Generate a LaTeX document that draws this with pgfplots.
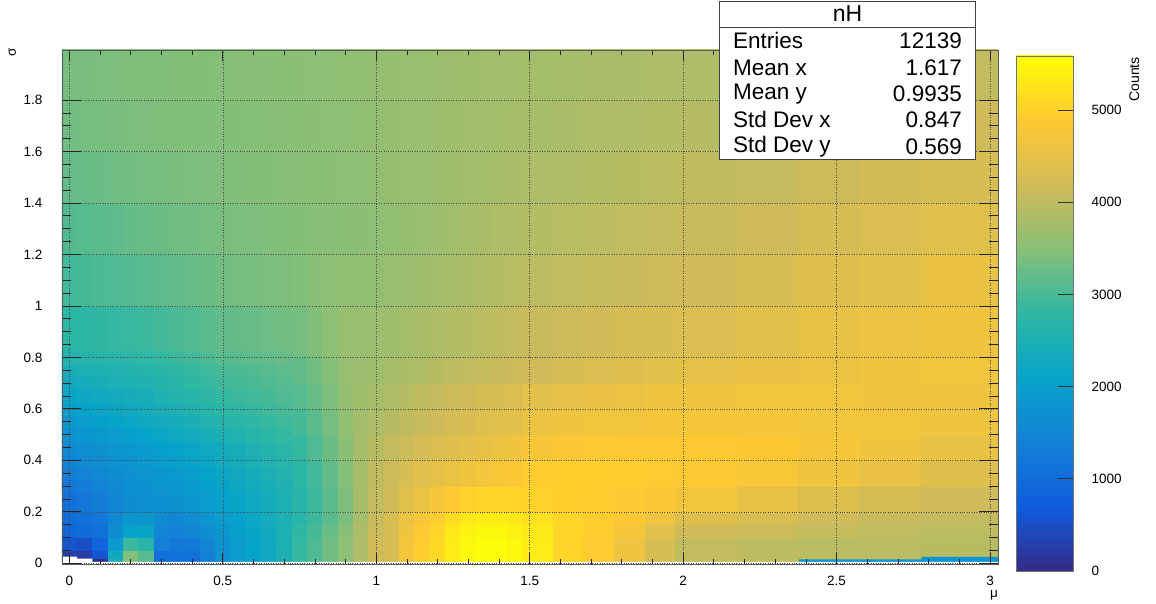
\documentclass[border=0pt]{standalone}
\usepackage{fontspec}
\setmainfont{Liberation Sans}
\usepackage{pgfplots}
\pgfplotsset{compat=1.18}
\pgfplotsset{
 colormap={bird}{
  rgb=(0.2082,0.1664,0.5293) rgb=(0.0592,0.3599,0.8684) rgb=(0.0780,0.5041,0.8385)
  rgb=(0.0232,0.6419,0.7914) rgb=(0.1802,0.7178,0.6425) rgb=(0.5301,0.7492,0.4662)
  rgb=(0.8186,0.7328,0.3499) rgb=(0.9956,0.7862,0.1968) rgb=(0.9900,0.9950,0.0300)}
}
\pgfdeclareverticalshading{birdbar}{100bp}{
  rgb(0bp)=(0.2082,0.1664,0.5293); rgb(25bp)=(0.2082,0.1664,0.5293);
  rgb(31.25bp)=(0.0592,0.3599,0.8684); rgb(37.5bp)=(0.0780,0.5041,0.8385);
  rgb(43.75bp)=(0.0232,0.6419,0.7914); rgb(50bp)=(0.1802,0.7178,0.6425);
  rgb(56.25bp)=(0.5301,0.7492,0.4662); rgb(62.5bp)=(0.8186,0.7328,0.3499);
  rgb(68.75bp)=(0.9956,0.7862,0.1968); rgb(75bp)=(0.9900,0.9950,0.0300);
  rgb(100bp)=(0.9900,0.9950,0.0300)}
\newcommand{\smallfont}{\fontsize{13.5}{15}\selectfont}
\begin{document}
\begin{tikzpicture}[x=1pt,y=1pt]
\path[use as bounding box] (-62,-39) rectangle (1094,564);
\begin{axis}[
  at={(0,0)},anchor=south west,
  scale only axis,width=936pt,height=514pt,
  xmin=-0.024,xmax=3.026,ymin=-0.003,ymax=1.9945,
  colormap name=bird,point meta min=0,point meta max=5585,
  xtick={0,0.5,1,1.5,2,2.5,3},ytick={0,0.2,...,1.81},
  xticklabels={0,0.5,1,1.5,2,2.5,3},
  yticklabels={0,0.2,0.4,0.6,0.8,1,1.2,1.4,1.6,1.8},
  minor x tick num=4,minor y tick num=3,
  tick align=inside,
  major tick length=19pt,minor tick length=9pt,
  xtick style={/pgfplots/major tick length=11pt,/pgfplots/minor tick length=5pt},
  tick style={black!85,line width=0.7pt},
  axis line style={black!65,line width=0.8pt},
  grid=major,grid style={black!70,dotted,line width=0.5pt},
  axis on top,
  tick label style={font=\smallfont},
  xticklabel style={yshift=-9pt},
  yticklabel style={xshift=-16pt},
]
\addplot[surf,shader=flat corner,mesh/cols=41,mesh/check=false,point meta=\thisrow{c}] table {
x y c
-0.025 0.005 300
0.025 0.005 250
0.075 0.005 150
0.125 0.005 2500
0.175 0.005 3450
0.225 0.005 3150
0.275 0.005 1000
0.325 0.005 1050
0.375 0.005 1050
0.425 0.005 1350
0.475 0.005 1750
0.525 0.005 1950
0.575 0.005 2100
0.625 0.005 2250
0.675 0.005 2500
0.725 0.005 2850
0.775 0.005 3050
0.825 0.005 3300
0.875 0.005 3550
0.925 0.005 3850
0.975 0.005 4200
1.025 0.005 4300
1.075 0.005 4700
1.125 0.005 4950
1.175 0.005 5100
1.225 0.005 5350
1.275 0.005 5500
1.325 0.005 5560
1.375 0.005 5580
1.425 0.005 5500
1.475 0.005 5350
1.575 0.005 5050
1.675 0.005 4920
1.775 0.005 4650
1.875 0.005 4300
1.975 0.005 4050
2.175 0.005 4000
2.375 0.005 3980
2.575 0.005 3970
2.775 0.005 3950
3.025 0.005 3950
-0.025 0.02 300
0.025 0.02 250
0.075 0.02 600
0.125 0.02 2300
0.175 0.02 3450
0.225 0.02 3100
0.275 0.02 1050
0.325 0.02 1100
0.375 0.02 1100
0.425 0.02 1400
0.475 0.02 1750
0.525 0.02 1950
0.575 0.02 2100
0.625 0.02 2250
0.675 0.02 2500
0.725 0.02 2850
0.775 0.02 3050
0.825 0.02 3300
0.875 0.02 3550
0.925 0.02 3850
0.975 0.02 4200
1.025 0.02 4300
1.075 0.02 4700
1.125 0.02 4950
1.175 0.02 5100
1.225 0.02 5350
1.275 0.02 5500
1.325 0.02 5560
1.375 0.02 5580
1.425 0.02 5500
1.475 0.02 5350
1.575 0.02 5050
1.675 0.02 4920
1.775 0.02 4650
1.875 0.02 4300
1.975 0.02 4050
2.175 0.02 4000
2.375 0.02 3980
2.575 0.02 3970
2.775 0.02 3950
3.025 0.02 3950
-0.025 0.05 600
0.025 0.05 500
0.075 0.05 850
0.125 0.05 1900
0.175 0.05 2900
0.225 0.05 2700
0.275 0.05 1400
0.325 0.05 1250
0.375 0.05 1300
0.425 0.05 1500
0.475 0.05 1750
0.525 0.05 1950
0.575 0.05 2100
0.625 0.05 2250
0.675 0.05 2500
0.725 0.05 2850
0.775 0.05 3050
0.825 0.05 3300
0.875 0.05 3550
0.925 0.05 3850
0.975 0.05 4200
1.025 0.05 4300
1.075 0.05 4700
1.125 0.05 4950
1.175 0.05 5100
1.225 0.05 5350
1.275 0.05 5500
1.325 0.05 5560
1.375 0.05 5580
1.425 0.05 5500
1.475 0.05 5350
1.575 0.05 5050
1.675 0.05 4920
1.775 0.05 4650
1.875 0.05 4300
1.975 0.05 4050
2.175 0.05 4000
2.375 0.05 3980
2.575 0.05 3970
2.775 0.05 3950
3.025 0.05 3950
-0.025 0.1 900
0.025 0.1 1000
0.075 0.1 1100
0.125 0.1 1650
0.175 0.1 2100
0.225 0.1 2150
0.275 0.1 1500
0.325 0.1 1400
0.375 0.1 1450
0.425 0.1 1650
0.475 0.1 1850
0.525 0.1 2000
0.575 0.1 2150
0.625 0.1 2300
0.675 0.1 2500
0.725 0.1 2800
0.775 0.1 3000
0.825 0.1 3250
0.875 0.1 3500
0.925 0.1 3850
0.975 0.1 4150
1.025 0.1 4300
1.075 0.1 4650
1.125 0.1 4900
1.175 0.1 5050
1.225 0.1 5300
1.275 0.1 5450
1.325 0.1 5500
1.375 0.1 5500
1.425 0.1 5420
1.475 0.1 5300
1.575 0.1 5050
1.675 0.1 4950
1.775 0.1 4750
1.875 0.1 4450
1.975 0.1 4200
2.175 0.1 4150
2.375 0.1 4080
2.575 0.1 4030
2.775 0.1 4000
3.025 0.1 4000
-0.025 0.15 1000
0.025 0.15 1100
0.075 0.15 1200
0.125 0.15 1550
0.175 0.15 1850
0.225 0.15 1850
0.275 0.15 1600
0.325 0.15 1500
0.375 0.15 1650
0.425 0.15 1800
0.475 0.15 1950
0.525 0.15 2050
0.575 0.15 2200
0.625 0.15 2350
0.675 0.15 2500
0.725 0.15 2700
0.775 0.15 2900
0.825 0.15 3150
0.875 0.15 3400
0.925 0.15 3800
0.975 0.15 4100
1.025 0.15 4300
1.075 0.15 4600
1.125 0.15 4800
1.175 0.15 4950
1.225 0.15 5150
1.275 0.15 5300
1.325 0.15 5350
1.375 0.15 5350
1.425 0.15 5300
1.475 0.15 5200
1.575 0.15 5050
1.675 0.15 4950
1.775 0.15 4850
1.875 0.15 4650
1.975 0.15 4400
2.175 0.15 4300
2.375 0.15 4180
2.575 0.15 4100
2.775 0.15 4050
3.025 0.15 4050
-0.025 0.2 1100
0.025 0.2 1200
0.075 0.2 1350
0.125 0.2 1500
0.175 0.2 1650
0.225 0.2 1700
0.275 0.2 1700
0.325 0.2 1750
0.375 0.2 1850
0.425 0.2 1950
0.475 0.2 2050
0.525 0.2 2150
0.575 0.2 2250
0.625 0.2 2350
0.675 0.2 2500
0.725 0.2 2700
0.775 0.2 2900
0.825 0.2 3150
0.875 0.2 3420
0.925 0.2 3800
0.975 0.2 4050
1.025 0.2 4200
1.075 0.2 4450
1.125 0.2 4600
1.175 0.2 4750
1.225 0.2 4900
1.275 0.2 5000
1.325 0.2 5050
1.375 0.2 5050
1.425 0.2 5050
1.475 0.2 5020
1.575 0.2 4970
1.675 0.2 4950
1.775 0.2 4900
1.875 0.2 4830
1.975 0.2 4700
2.175 0.2 4530
2.375 0.2 4370
2.575 0.2 4260
2.775 0.2 4170
3.025 0.2 4170
-0.025 0.3 1350
0.025 0.3 1450
0.075 0.3 1550
0.125 0.3 1650
0.175 0.3 1700
0.225 0.3 1800
0.275 0.3 1850
0.325 0.3 1900
0.375 0.3 2000
0.425 0.3 2100
0.475 0.3 2200
0.525 0.3 2300
0.575 0.3 2400
0.625 0.3 2500
0.675 0.3 2600
0.725 0.3 2750
0.775 0.3 2950
0.825 0.3 3200
0.875 0.3 3480
0.925 0.3 3800
0.975 0.3 4020
1.025 0.3 4150
1.075 0.3 4300
1.125 0.3 4420
1.175 0.3 4520
1.225 0.3 4600
1.275 0.3 4680
1.325 0.3 4740
1.375 0.3 4800
1.425 0.3 4840
1.475 0.3 4950
1.575 0.3 4970
1.675 0.3 4970
1.775 0.3 4950
1.875 0.3 4930
1.975 0.3 4900
2.175 0.3 4800
2.375 0.3 4680
2.575 0.3 4560
2.775 0.3 4400
3.025 0.3 4400
-0.025 0.4 1600
0.025 0.4 1680
0.075 0.4 1750
0.125 0.4 1800
0.175 0.4 1870
0.225 0.4 1950
0.275 0.4 2020
0.325 0.4 2100
0.375 0.4 2180
0.425 0.4 2270
0.475 0.4 2350
0.525 0.4 2450
0.575 0.4 2550
0.625 0.4 2650
0.675 0.4 2750
0.725 0.4 2850
0.775 0.4 3050
0.825 0.4 3280
0.875 0.4 3520
0.925 0.4 3780
0.975 0.4 3950
1.025 0.4 4050
1.075 0.4 4150
1.125 0.4 4250
1.175 0.4 4330
1.225 0.4 4400
1.275 0.4 4470
1.325 0.4 4530
1.375 0.4 4590
1.425 0.4 4650
1.475 0.4 4780
1.575 0.4 4830
1.675 0.4 4860
1.775 0.4 4880
1.875 0.4 4900
1.975 0.4 4890
2.175 0.4 4850
2.375 0.4 4770
2.575 0.4 4680
2.775 0.4 4550
3.025 0.4 4550
-0.025 0.5 1850
0.025 0.5 1950
0.075 0.5 2030
0.125 0.5 2100
0.175 0.5 2180
0.225 0.5 2250
0.275 0.5 2330
0.325 0.5 2400
0.375 0.5 2480
0.425 0.5 2570
0.475 0.5 2650
0.525 0.5 2720
0.575 0.5 2790
0.625 0.5 2860
0.675 0.5 2930
0.725 0.5 3000
0.775 0.5 3150
0.825 0.5 3350
0.875 0.5 3580
0.925 0.5 3750
0.975 0.5 3850
1.025 0.5 3930
1.075 0.5 4020
1.125 0.5 4100
1.175 0.5 4180
1.225 0.5 4250
1.275 0.5 4320
1.325 0.5 4380
1.375 0.5 4430
1.425 0.5 4480
1.475 0.5 4600
1.575 0.5 4650
1.675 0.5 4690
1.775 0.5 4720
1.875 0.5 4760
1.975 0.5 4780
2.175 0.5 4770
2.375 0.5 4740
2.575 0.5 4700
2.775 0.5 4640
3.025 0.5 4640
-0.025 0.6 2150
0.025 0.6 2220
0.075 0.6 2280
0.125 0.6 2340
0.175 0.6 2400
0.225 0.6 2450
0.275 0.6 2530
0.325 0.6 2610
0.375 0.6 2690
0.425 0.6 2770
0.475 0.6 2850
0.525 0.6 2900
0.575 0.6 2950
0.625 0.6 3000
0.675 0.6 3050
0.725 0.6 3100
0.775 0.6 3250
0.825 0.6 3420
0.875 0.6 3610
0.925 0.6 3720
0.975 0.6 3780
1.025 0.6 3860
1.075 0.6 3940
1.125 0.6 4020
1.175 0.6 4090
1.225 0.6 4150
1.275 0.6 4200
1.325 0.6 4260
1.375 0.6 4310
1.425 0.6 4360
1.475 0.6 4470
1.575 0.6 4520
1.675 0.6 4560
1.775 0.6 4600
1.875 0.6 4640
1.975 0.6 4670
2.175 0.6 4690
2.375 0.6 4690
2.575 0.6 4680
2.775 0.6 4670
3.025 0.6 4670
-0.025 0.7 2450
0.025 0.7 2490
0.075 0.7 2530
0.125 0.7 2570
0.175 0.7 2610
0.225 0.7 2650
0.275 0.7 2720
0.325 0.7 2790
0.375 0.7 2860
0.425 0.7 2930
0.475 0.7 3000
0.525 0.7 3040
0.575 0.7 3080
0.625 0.7 3120
0.675 0.7 3160
0.725 0.7 3200
0.775 0.7 3330
0.825 0.7 3480
0.875 0.7 3640
0.925 0.7 3700
0.975 0.7 3720
1.025 0.7 3780
1.075 0.7 3840
1.125 0.7 3890
1.175 0.7 3950
1.225 0.7 4000
1.275 0.7 4040
1.325 0.7 4080
1.375 0.7 4120
1.425 0.7 4160
1.475 0.7 4200
1.575 0.7 4270
1.675 0.7 4330
1.775 0.7 4390
1.875 0.7 4450
1.975 0.7 4500
2.175 0.7 4560
2.375 0.7 4620
2.575 0.7 4650
2.775 0.7 4690
3.025 0.7 4690
-0.025 0.8 2750
0.025 0.8 2780
0.075 0.8 2810
0.125 0.8 2840
0.175 0.8 2870
0.225 0.8 2900
0.275 0.8 2960
0.325 0.8 3020
0.375 0.8 3080
0.425 0.8 3140
0.475 0.8 3200
0.525 0.8 3230
0.575 0.8 3260
0.625 0.8 3290
0.675 0.8 3320
0.725 0.8 3350
0.775 0.8 3450
0.825 0.8 3550
0.875 0.8 3650
0.925 0.8 3670
0.975 0.8 3680
1.025 0.8 3720
1.075 0.8 3770
1.125 0.8 3810
1.175 0.8 3860
1.225 0.8 3900
1.275 0.8 3940
1.325 0.8 3980
1.375 0.8 4020
1.425 0.8 4060
1.475 0.8 4100
1.575 0.8 4150
1.675 0.8 4200
1.775 0.8 4260
1.875 0.8 4310
1.975 0.8 4350
2.175 0.8 4450
2.375 0.8 4550
2.575 0.8 4610
2.775 0.8 4680
3.025 0.8 4680
-0.025 1 2950
0.025 1 2990
0.075 1 3020
0.125 1 3050
0.175 1 3090
0.225 1 3120
0.275 1 3160
0.325 1 3200
0.375 1 3240
0.425 1 3280
0.475 1 3320
0.525 1 3350
0.575 1 3370
0.625 1 3400
0.675 1 3420
0.725 1 3450
0.775 1 3500
0.825 1 3550
0.875 1 3600
0.925 1 3600
0.975 1 3600
1.025 1 3640
1.075 1 3680
1.125 1 3720
1.175 1 3760
1.225 1 3800
1.275 1 3840
1.325 1 3880
1.375 1 3920
1.425 1 3960
1.475 1 4000
1.575 1 4040
1.675 1 4080
1.775 1 4120
1.875 1 4160
1.975 1 4200
2.175 1 4300
2.375 1 4400
2.575 1 4480
2.775 1 4580
3.025 1 4580
-0.025 1.2 3080
0.025 1.2 3110
0.075 1.2 3150
0.125 1.2 3180
0.175 1.2 3220
0.225 1.2 3250
0.275 1.2 3280
0.325 1.2 3300
0.375 1.2 3330
0.425 1.2 3350
0.475 1.2 3380
0.525 1.2 3400
0.575 1.2 3420
0.625 1.2 3430
0.675 1.2 3450
0.725 1.2 3470
0.775 1.2 3490
0.825 1.2 3510
0.875 1.2 3530
0.925 1.2 3540
0.975 1.2 3560
1.025 1.2 3600
1.075 1.2 3630
1.125 1.2 3670
1.175 1.2 3700
1.225 1.2 3740
1.275 1.2 3780
1.325 1.2 3810
1.375 1.2 3850
1.425 1.2 3880
1.475 1.2 3920
1.575 1.2 3960
1.675 1.2 3990
1.775 1.2 4030
1.875 1.2 4060
1.975 1.2 4100
2.175 1.2 4180
2.375 1.2 4260
2.575 1.2 4340
2.775 1.2 4430
3.025 1.2 4430
-0.025 1.4 3230
0.025 1.4 3250
0.075 1.4 3280
0.125 1.4 3300
0.175 1.4 3330
0.225 1.4 3350
0.275 1.4 3370
0.325 1.4 3390
0.375 1.4 3400
0.425 1.4 3420
0.475 1.4 3430
0.525 1.4 3450
0.575 1.4 3460
0.625 1.4 3470
0.675 1.4 3490
0.725 1.4 3500
0.775 1.4 3520
0.825 1.4 3530
0.875 1.4 3550
0.925 1.4 3570
0.975 1.4 3590
1.025 1.4 3620
1.075 1.4 3640
1.125 1.4 3670
1.175 1.4 3700
1.225 1.4 3720
1.275 1.4 3750
1.325 1.4 3770
1.375 1.4 3800
1.425 1.4 3830
1.475 1.4 3850
1.575 1.4 3880
1.675 1.4 3920
1.775 1.4 3950
1.875 1.4 3980
1.975 1.4 4020
2.175 1.4 4090
2.375 1.4 4160
2.575 1.4 4230
2.775 1.4 4300
3.025 1.4 4300
-0.025 1.6 3330
0.025 1.6 3350
0.075 1.6 3370
0.125 1.6 3380
0.175 1.6 3400
0.225 1.6 3420
0.275 1.6 3430
0.325 1.6 3440
0.375 1.6 3450
0.425 1.6 3450
0.475 1.6 3460
0.525 1.6 3470
0.575 1.6 3480
0.625 1.6 3500
0.675 1.6 3510
0.725 1.6 3520
0.775 1.6 3540
0.825 1.6 3550
0.875 1.6 3570
0.925 1.6 3590
0.975 1.6 3600
1.025 1.6 3620
1.075 1.6 3650
1.125 1.6 3670
1.175 1.6 3690
1.225 1.6 3710
1.275 1.6 3730
1.325 1.6 3750
1.375 1.6 3770
1.425 1.6 3780
1.475 1.6 3800
1.575 1.6 3830
1.675 1.6 3850
1.775 1.6 3880
1.875 1.6 3900
1.975 1.6 3930
2.175 1.6 3980
2.375 1.6 4030
2.575 1.6 4090
2.775 1.6 4170
3.025 1.6 4170
-0.025 1.8 3370
0.025 1.8 3380
0.075 1.8 3400
0.125 1.8 3410
0.175 1.8 3430
0.225 1.8 3440
0.275 1.8 3450
0.325 1.8 3460
0.375 1.8 3470
0.425 1.8 3470
0.475 1.8 3480
0.525 1.8 3490
0.575 1.8 3500
0.625 1.8 3510
0.675 1.8 3520
0.725 1.8 3530
0.775 1.8 3550
0.825 1.8 3560
0.875 1.8 3580
0.925 1.8 3600
0.975 1.8 3610
1.025 1.8 3630
1.075 1.8 3650
1.125 1.8 3660
1.175 1.8 3680
1.225 1.8 3700
1.275 1.8 3710
1.325 1.8 3730
1.375 1.8 3740
1.425 1.8 3750
1.475 1.8 3770
1.575 1.8 3790
1.675 1.8 3810
1.775 1.8 3830
1.875 1.8 3850
1.975 1.8 3860
2.175 1.8 3900
2.375 1.8 3940
2.575 1.8 3990
2.775 1.8 4060
3.025 1.8 4060
-0.025 2 3370
0.025 2 3380
0.075 2 3400
0.125 2 3410
0.175 2 3430
0.225 2 3440
0.275 2 3450
0.325 2 3460
0.375 2 3470
0.425 2 3470
0.475 2 3480
0.525 2 3490
0.575 2 3500
0.625 2 3510
0.675 2 3520
0.725 2 3530
0.775 2 3550
0.825 2 3560
0.875 2 3580
0.925 2 3600
0.975 2 3610
1.025 2 3630
1.075 2 3650
1.125 2 3660
1.175 2 3680
1.225 2 3700
1.275 2 3710
1.325 2 3730
1.375 2 3740
1.425 2 3750
1.475 2 3770
1.575 2 3790
1.675 2 3810
1.775 2 3830
1.875 2 3850
1.975 2 3860
2.175 2 3900
2.375 2 3940
2.575 2 3990
2.775 2 4060
3.025 2 4060
};
% finer rows over the steep region at the left
\addplot[surf,shader=flat corner,mesh/cols=16,mesh/check=false,point meta=\thisrow{c}] table {
x y c
-0.025 0.275 1225
0.025 0.275 1325
0.075 0.275 1450
0.125 0.275 1575
0.175 0.275 1675
0.225 0.275 1750
0.275 0.275 1775
0.325 0.275 1825
0.375 0.275 1925
0.425 0.275 2025
0.475 0.275 2125
0.525 0.275 2225
0.575 0.275 2325
0.625 0.275 2425
0.675 0.275 2550
0.725 0.275 2550
-0.025 0.325 1350
0.025 0.325 1450
0.075 0.325 1550
0.125 0.325 1650
0.175 0.325 1700
0.225 0.325 1800
0.275 0.325 1850
0.325 0.325 1900
0.375 0.325 2000
0.425 0.325 2100
0.475 0.325 2200
0.525 0.325 2300
0.575 0.325 2400
0.625 0.325 2500
0.675 0.325 2600
0.725 0.325 2600
-0.025 0.375 1475
0.025 0.375 1565
0.075 0.375 1650
0.125 0.375 1725
0.175 0.375 1785
0.225 0.375 1875
0.275 0.375 1935
0.325 0.375 2000
0.375 0.375 2090
0.425 0.375 2185
0.475 0.375 2275
0.525 0.375 2375
0.575 0.375 2475
0.625 0.375 2575
0.675 0.375 2675
0.725 0.375 2675
-0.025 0.425 1600
0.025 0.425 1680
0.075 0.425 1750
0.125 0.425 1800
0.175 0.425 1870
0.225 0.425 1950
0.275 0.425 2020
0.325 0.425 2100
0.375 0.425 2180
0.425 0.425 2270
0.475 0.425 2350
0.525 0.425 2450
0.575 0.425 2550
0.625 0.425 2650
0.675 0.425 2750
0.725 0.425 2750
-0.025 0.475 1725
0.025 0.475 1815
0.075 0.475 1890
0.125 0.475 1950
0.175 0.475 2025
0.225 0.475 2100
0.275 0.475 2175
0.325 0.475 2250
0.375 0.475 2330
0.425 0.475 2420
0.475 0.475 2500
0.525 0.475 2585
0.575 0.475 2670
0.625 0.475 2755
0.675 0.475 2840
0.725 0.475 2840
-0.025 0.525 1850
0.025 0.525 1950
0.075 0.525 2030
0.125 0.525 2100
0.175 0.525 2180
0.225 0.525 2250
0.275 0.525 2330
0.325 0.525 2400
0.375 0.525 2480
0.425 0.525 2570
0.475 0.525 2650
0.525 0.525 2720
0.575 0.525 2790
0.625 0.525 2860
0.675 0.525 2930
0.725 0.525 2930
-0.025 0.575 2000
0.025 0.575 2085
0.075 0.575 2155
0.125 0.575 2220
0.175 0.575 2290
0.225 0.575 2350
0.275 0.575 2430
0.325 0.575 2505
0.375 0.575 2585
0.425 0.575 2670
0.475 0.575 2750
0.525 0.575 2810
0.575 0.575 2870
0.625 0.575 2930
0.675 0.575 2990
0.725 0.575 2990
-0.025 0.625 2150
0.025 0.625 2220
0.075 0.625 2280
0.125 0.625 2340
0.175 0.625 2400
0.225 0.625 2450
0.275 0.625 2530
0.325 0.625 2610
0.375 0.625 2690
0.425 0.625 2770
0.475 0.625 2850
0.525 0.625 2900
0.575 0.625 2950
0.625 0.625 3000
0.675 0.625 3050
0.725 0.625 3050
-0.025 0.675 2300
0.025 0.675 2355
0.075 0.675 2405
0.125 0.675 2455
0.175 0.675 2505
0.225 0.675 2550
0.275 0.675 2625
0.325 0.675 2700
0.375 0.675 2775
0.425 0.675 2850
0.475 0.675 2925
0.525 0.675 2970
0.575 0.675 3015
0.625 0.675 3060
0.675 0.675 3105
0.725 0.675 3105
-0.025 0.725 2450
0.025 0.725 2490
0.075 0.725 2530
0.125 0.725 2570
0.175 0.725 2610
0.225 0.725 2650
0.275 0.725 2720
0.325 0.725 2790
0.375 0.725 2860
0.425 0.725 2930
0.475 0.725 3000
0.525 0.725 3040
0.575 0.725 3080
0.625 0.725 3120
0.675 0.725 3160
0.725 0.725 3160
-0.025 0.775 2600
0.025 0.775 2635
0.075 0.775 2670
0.125 0.775 2705
0.175 0.775 2740
0.225 0.775 2775
0.275 0.775 2840
0.325 0.775 2905
0.375 0.775 2970
0.425 0.775 3035
0.475 0.775 3100
0.525 0.775 3135
0.575 0.775 3170
0.625 0.775 3205
0.675 0.775 3240
0.725 0.775 3240
-0.025 0.825 2600
0.025 0.825 2635
0.075 0.825 2670
0.125 0.825 2705
0.175 0.825 2740
0.225 0.825 2775
0.275 0.825 2840
0.325 0.825 2905
0.375 0.825 2970
0.425 0.825 3035
0.475 0.825 3100
0.525 0.825 3135
0.575 0.825 3170
0.625 0.825 3205
0.675 0.825 3240
0.725 0.825 3240
};
\addplot[fill={rgb,255:red,10;green,150;blue,210},draw=none] coordinates {
(2.377,0.005)(2.377,0.015)(2.777,0.015)(2.777,0.025)(3.026,0.025)(3.026,0.005)} -- cycle;
\addplot[fill=white,draw=none] coordinates {
(-0.024,-0.003)(-0.024,0.026)(0.025,0.026)(0.025,0.018)(0.075,0.018)(0.075,0.005)(3.026,0.005)(3.026,-0.003)} -- cycle;
\end{axis}
% colour scale
\shade[shading=birdbar] (954,-7) rectangle (1011,508);
\begin{axis}[
  at={(954pt,-7pt)},anchor=south west,
  scale only axis,width=57pt,height=515pt,
  xmin=0,xmax=1,ymin=0,ymax=5585,
  xtick=\empty,
  ytick={0,1000,2000,3000,4000,5000},
  ytick pos=right,yticklabel pos=right,
  tick align=inside,
  major tick length=15pt,
  tick style={black!80,line width=0.7pt},
  axis line style={black!55,line width=0.6pt},
  yticklabel style={font=\smallfont,xshift=15pt},
  /pgf/number format/assume math mode=true,
  /pgf/number format/1000 sep={},
]
\addplot[draw=none] coordinates {(0,0)(1,5585)};
\end{axis}
% axis titles and stats box
\node[font=\smallfont,anchor=base,inner sep=0pt] at (932,-33) {μ};
\node[font=\smallfont,rotate=90,anchor=base] at (-46,512) {σ};
\node[font=\fontsize{14}{15}\selectfont,rotate=90,anchor=base east,inner sep=0pt] at (1077,507) {Counts};
\filldraw[fill=white,draw=black!75,line width=0.8pt] (657,405) rectangle (913,563);
\draw[black!75,line width=0.8pt] (657,537) -- (913,537);
\node[font=\fontsize{23}{24}\selectfont,anchor=base,inner sep=0pt] at (785.5,542) {nH};
\begin{scope}[every node/.style={font=\fontsize{22.5}{24}\selectfont,inner sep=0pt}]
\node[anchor=base west] at (671,515) {Entries};
\node[anchor=base west] at (671,488) {Mean x};
\node[anchor=base west] at (671,464) {Mean y};
\node[anchor=base west] at (671,436) {Std Dev x};
\node[anchor=base west] at (671,411) {Std Dev y};
\node[anchor=base east] at (900,515) {12139};
\node[anchor=base east] at (900,488) {1.617};
\node[anchor=base east] at (900,462) {0.9935};
\node[anchor=base east] at (900,436) {0.847};
\node[anchor=base east] at (900,409) {0.569};
\end{scope}
\end{tikzpicture}
\end{document}
